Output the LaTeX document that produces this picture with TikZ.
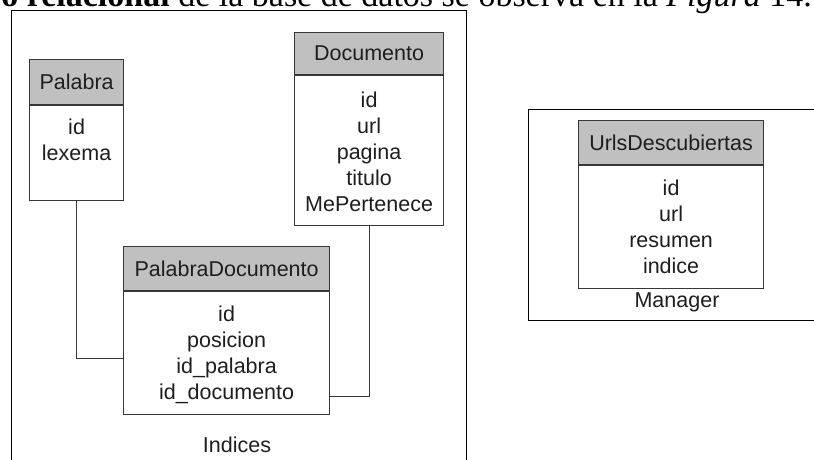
\documentclass[tikz,border=0pt]{standalone}
\usepackage{fontspec}
\setmainfont{Liberation Sans}
\newfontfamily\capserif{Liberation Serif}
\usetikzlibrary{positioning,calc}

\definecolor{tblgray}{RGB}{192,192,192}
\definecolor{tblline}{RGB}{55,55,55}
\definecolor{tbltext}{RGB}{30,30,30}
\newcommand\tblfont{\fontsize{21.5}{26}\selectfont}

\tikzset{
  tblhead/.style={draw=tblline, fill=tblgray, line width=1.2pt, inner sep=0pt, text=tbltext, font=\tblfont},
  tblbody/.style={draw=tblline, fill=white, line width=1.2pt, inner sep=0pt},
  tblfields/.style={inner sep=0pt, align=center, text=tbltext, font=\tblfont},
  tbllabel/.style={anchor=base, inner sep=0pt, text=tbltext, font=\tblfont},
  link/.style={draw=tblline, line width=1.1pt},
  frame/.style={draw=black, line width=1pt}
}

\begin{document}
\begin{tikzpicture}[x=1pt,y=1pt,yscale=-1,xscale=1]
\useasboundingbox (0,0) rectangle (814,459);
\clip (0,0) rectangle (814,459);

% text line cut by the top edge
\node (capline) [anchor=base east, inner sep=0pt, font=\capserif\fontsize{34}{34}\selectfont] at (812,6)
  {\textbf{o relacional} de la base de datos se observa en la \textit{Figura} 14.};

%Shape: Frame Indices
\draw [frame] (11,470) -- (11,10) -- (466,10) -- (466,470) ;
%Shape: Frame Manager
\draw [frame] (830,109) -- (528,109) -- (528,320) -- (830,320) ;

%Table: Palabra
\node (palHead) [tblhead, anchor=north west, minimum width=94pt, minimum height=45pt] at (29,59) {Palabra};
\node (palBody) [tblbody, below=0pt of palHead, minimum width=94pt, minimum height=95pt] {};
\node (palFields) [tblfields, below=14pt of palBody.north] {id\\lexema};

%Table: Documento
\node (docHead) [tblhead, anchor=north west, minimum width=149pt, minimum height=42pt] at (294,32) {Documento};
\node (docBody) [tblbody, below=0pt of docHead, minimum width=149pt, minimum height=150pt] {};
\node (docFields) [tblfields, below=17pt of docBody.north] {id\\url\\pagina\\titulo\\MePertenece};

%Table: PalabraDocumento
\node (pdHead) [tblhead, anchor=north west, minimum width=206pt, minimum height=44pt] at (123,246) {PalabraDocumento};
\node (pdBody) [tblbody, below=0pt of pdHead, minimum width=206pt, minimum height=123pt] {};
\node (pdFields) [tblfields, below=15pt of pdBody.north] {id\\posicion\\id\_palabra\\id\_documento};

%Table: UrlsDescubiertas
\node (urlHead) [tblhead, anchor=north west, minimum width=185pt, minimum height=44pt] at (578,120) {UrlsDescubiertas};
\node (urlBody) [tblbody, below=0pt of urlHead, minimum width=185pt, minimum height=123pt] {};
\node (urlFields) [tblfields, below=15pt of urlBody.north] {id\\url\\resumen\\indice};

%Straight Lines: relations
\draw [link] (palBody.south) |- ($(pdBody.west)+(0,5.5)$) ;
\draw [link] (docBody.south) |- ($(pdBody.east)+(0,43.5)$) ;

% Text Node
\node (indLabel) [tbllabel] at (237,452) {Indices};
% Text Node
\node (manLabel) [tbllabel] at (677,307) {Manager};

\end{tikzpicture}
\end{document}
